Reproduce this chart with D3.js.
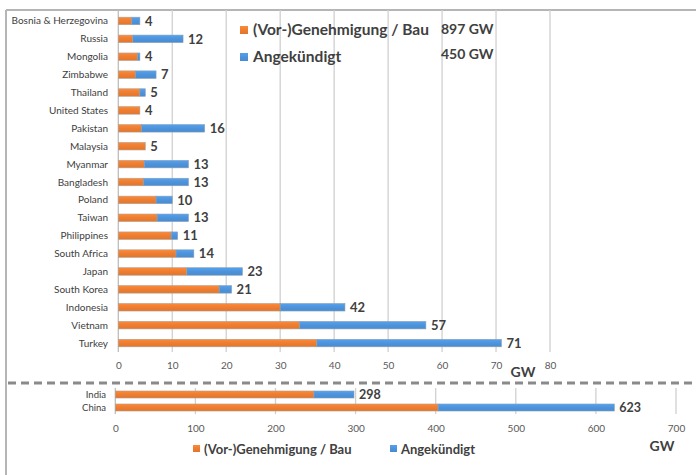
<!DOCTYPE html>
<html>
<head>
<meta charset="utf-8">
<script src="https://cdn.jsdelivr.net/npm/d3@7"></script>
<style>
  html, body { margin: 0; padding: 0; background: #fff; }
  svg { display: block; font-family: Lato, "Open Sans", sans-serif; }
</style>
</head>
<body>
<svg id="chart" width="696" height="475"></svg>
<script>
// Coal power pipeline per country, GW
const countries = ["Bosnia & Herzegovina", "Russia", "Mongolia", "Zimbabwe", "Thailand",
  "United States", "Pakistan", "Malaysia", "Myanmar", "Bangladesh", "Poland", "Taiwan",
  "Philippines", "South Africa", "Japan", "South Korea", "Indonesia", "Vietnam", "Turkey"];
const permitted = [2.5, 2.7, 3.6, 3.2, 4.0, 4.0, 4.3, 5.0, 4.8, 4.7, 7.0, 7.2, 9.8, 10.7, 12.7, 18.7, 30.0, 33.6, 36.8];
const announced = [1.5, 9.3, 0.4, 3.8, 1.0, 0.0, 11.7, 0.0, 8.2, 8.3, 3.0, 5.8, 1.2, 3.3, 10.3, 2.3, 12.0, 23.4, 34.2];
const totals = [4, 12, 4, 7, 5, 4, 16, 5, 13, 13, 10, 13, 11, 14, 23, 21, 42, 57, 71];

const bigCountries = ["India", "China"];
const bigPermitted = [248, 403];
const bigAnnounced = [50, 220];
const bigTotals = [298, 623];

const seriesNames = ["(Vor-)Genehmigung / Bau", "Angekündigt"];
const seriesSums = ["897 GW", "450 GW"];
const topTicks = [0, 10, 20, 30, 40, 50, 60, 70, 80];
const bottomTicks = [0, 100, 200, 300, 400, 500, 600, 700];

const ORANGE = "#ED7D31", BLUE = "#4D93DB", TEXT = "#404040", TICK = "#595959", GRID = "#d0d0d0";

const svg = d3.select("#chart");

// frame: top and left rule
svg.append("line").attr("x1", 6).attr("x2", 696).attr("y1", 10).attr("y2", 10)
  .attr("stroke", "#b5b5b5").attr("stroke-width", 2);
svg.append("line").attr("x1", 6).attr("x2", 6).attr("y1", 10).attr("y2", 475)
  .attr("stroke", "#b5b5b5").attr("stroke-width", 2);

// gradient fills for the bars
const defs = svg.append("defs");
function grad(id, c) {
  const g = defs.append("linearGradient").attr("id", id).attr("x1", 0).attr("x2", 0).attr("y1", 0).attr("y2", 1);
  g.append("stop").attr("offset", "0%").attr("stop-color", d3.color(c).brighter(0.25));
  g.append("stop").attr("offset", "50%").attr("stop-color", c);
  g.append("stop").attr("offset", "100%").attr("stop-color", d3.color(c).darker(0.15));
}
grad("gO", ORANGE);
grad("gB", BLUE);

function drawPanel(opts) {
  const { cats, a, b, tot, x, y, ticks, gridTop, gridBottom, tickY, labelSize, valueSize, labelX } = opts;
  const g = svg.append("g");

  // vertical gridlines
  g.selectAll("line.grid").data(ticks).join("line")
    .attr("x1", d => x(d)).attr("x2", d => x(d))
    .attr("y1", gridTop).attr("y2", gridBottom)
    .attr("stroke", (d, i) => i === 0 ? "#bdbdbd" : GRID).attr("stroke-width", 1.3);

  // tick labels
  const axis = d3.axisBottom(x).tickValues(ticks).tickSize(0).tickPadding(0);
  const ax = g.append("g").attr("transform", `translate(0,${tickY})`).call(axis);
  ax.select(".domain").remove();
  ax.selectAll("text").attr("fill", TICK).attr("font-size", 10).attr("dy", "0.35em")
    .attr("font-family", "Lato, sans-serif");

  const rows = cats.map((c, i) => ({ c, a: a[i], b: b[i], t: tot[i] }));

  // category labels
  g.selectAll("text.cat").data(rows).join("text")
    .attr("x", labelX).attr("y", d => y(d.c) + y.bandwidth() / 2)
    .attr("dy", "0.35em").attr("text-anchor", "end")
    .attr("font-size", labelSize).attr("fill", TEXT).text(d => d.c);

  // permitted / under construction segment
  g.selectAll("rect.a").data(rows).join("rect")
    .attr("x", x(0)).attr("y", d => y(d.c))
    .attr("width", d => x(d.a) - x(0)).attr("height", y.bandwidth())
    .attr("fill", "url(#gO)").attr("stroke", "#b0a090").attr("stroke-width", 0.6);

  // announced segment
  g.selectAll("rect.b").data(rows.filter(d => d.b > 0)).join("rect")
    .attr("x", d => x(d.a)).attr("y", d => y(d.c))
    .attr("width", d => x(d.a + d.b) - x(d.a)).attr("height", y.bandwidth())
    .attr("fill", "url(#gB)").attr("stroke", "#8aa0b8").attr("stroke-width", 0.6);

  // totals
  g.selectAll("text.val").data(rows).join("text")
    .attr("x", d => x(d.a + d.b) + 5).attr("y", d => y(d.c) + y.bandwidth() / 2)
    .attr("dy", "0.36em").attr("font-size", valueSize).attr("font-weight", 700)
    .attr("fill", TEXT).text(d => d.t);
}

// upper panel: smaller countries
const xTop = d3.scaleLinear().domain([0, 80]).range([118.3, 550]);
const yTop = d3.scaleBand().domain(countries).range([12, 352]).paddingInner(0.58).paddingOuter(0.29);
drawPanel({
  cats: countries, a: permitted, b: announced, tot: totals,
  x: xTop, y: yTop, ticks: topTicks, gridTop: 10, gridBottom: 352, tickY: 365,
  labelSize: 10, valueSize: 13, labelX: 108
});
svg.append("text").attr("x", 523).attr("y", 372).attr("dy", "0.35em").attr("text-anchor", "middle")
  .attr("font-size", 14).attr("font-weight", 700).attr("fill", TEXT).text("GW");

// upper legend with totals
const legTop = svg.append("g");
const legColors = ["url(#gO)", "url(#gB)"];
seriesNames.forEach((n, i) => {
  const yy = 30 + i * 27;
  legTop.append("rect").attr("x", 240).attr("y", yy - 4).attr("width", 8).attr("height", 8)
    .attr("fill", legColors[i]);
  legTop.append("text").attr("x", 253).attr("y", yy).attr("dy", "0.35em")
    .attr("font-size", 15.5).attr("font-weight", 700).attr("fill", TEXT).text(n);
  legTop.append("text").attr("x", 441).attr("y", yy - 1 - i * 2).attr("dy", "0.35em")
    .attr("font-size", 14).attr("font-weight", 700).attr("fill", TEXT).text(seriesSums[i]);
});

// dashed separator
svg.append("line").attr("x1", 8).attr("x2", 696).attr("y1", 383).attr("y2", 383)
  .attr("stroke", "#8a8a8a").attr("stroke-width", 3).attr("stroke-dasharray", "8,5");

// lower panel: India and China
const xBot = d3.scaleLinear().domain([0, 700]).range([115.3, 676]);
const yBot = d3.scaleBand().domain(bigCountries).range([388, 414]).paddingInner(0.46).paddingOuter(0.23);
drawPanel({
  cats: bigCountries, a: bigPermitted, b: bigAnnounced, tot: bigTotals,
  x: xBot, y: yBot, ticks: bottomTicks, gridTop: 388, gridBottom: 414, tickY: 428,
  labelSize: 9.5, valueSize: 12.5, labelX: 106
});
svg.append("text").attr("x", 662).attr("y", 446).attr("dy", "0.35em").attr("text-anchor", "middle")
  .attr("font-size", 14).attr("font-weight", 700).attr("fill", TEXT).text("GW");

// lower legend
const legBot = svg.append("g");
const legX = [193, 390];
seriesNames.forEach((n, i) => {
  legBot.append("rect").attr("x", legX[i]).attr("y", 445).attr("width", 7).attr("height", 7)
    .attr("fill", legColors[i]);
  legBot.append("text").attr("x", legX[i] + 11).attr("y", 449).attr("dy", "0.35em")
    .attr("font-size", 13).attr("font-weight", 700).attr("fill", TEXT).text(n);
});
</script>
</body>
</html>
